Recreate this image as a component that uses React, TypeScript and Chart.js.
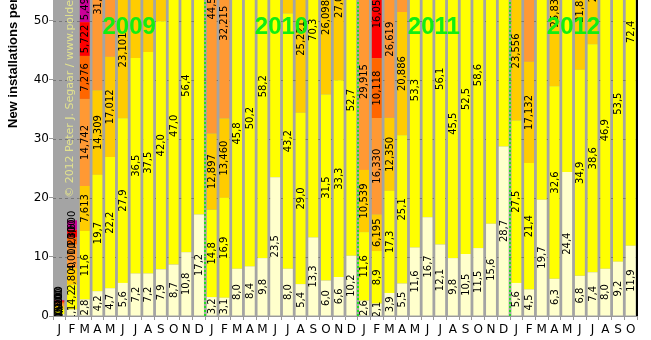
import React, { useEffect, useRef } from 'react';
import { Chart, registerables } from 'chart.js';

Chart.register(...registerables);

// Month initials 2009-01 .. 2012-10
const categories = [
  'J', 'F', 'M', 'A', 'M', 'J', 'J', 'A', 'S', 'O', 'N', 'D',
  'J', 'F', 'M', 'A', 'M', 'J', 'J', 'A', 'S', 'O', 'N', 'D',
  'J', 'F', 'M', 'A', 'M', 'J', 'J', 'A', 'S', 'O', 'N', 'D',
  'J', 'F', 'M', 'A', 'M', 'J', 'J', 'A', 'S', 'O',
];
const yearLabels = ['2009', '2010', '2011', '2012'];
const yearStarts = [0, 12, 24, 36];
const yTicks = [0, 10, 20, 30, 40, 50];

const seriesCream = [
  0.3, 1.1, 2.8, 4.2, 4.7, 5.6, 7.2, 7.2, 7.9, 8.7, 10.8, 17.2,
  3.2, 3.1, 8.0, 8.4, 9.8, 23.5, 8.0, 5.4, 13.3, 6.0, 6.6, 10.2,
  2.6, 2.1, 3.9, 5.5, 11.6, 16.7, 12.1, 9.8, 10.5, 11.5, 15.6, 28.7,
  5.6, 4.5, 19.7, 6.3, 24.4, 6.8, 7.4, 8.0, 9.2, 11.9,
];
const seriesYellow = [
  0.9, 4.2, 11.6, 19.7, 22.2, 27.9, 36.5, 37.5, 42.0, 47.0, 56.4, 90.0,
  14.8, 16.9, 45.8, 50.2, 58.2, 75.0, 43.2, 29.0, 70.3, 31.5, 33.3, 52.7,
  11.6, 8.9, 17.3, 25.1, 53.3, 85.0, 56.1, 45.5, 52.5, 58.6, 85.0, 65.0,
  27.5, 21.4, 80.0, 32.6, 70.0, 34.9, 38.6, 46.9, 53.5, 72.4,
];
const seriesGold = [
  0.5, 2.8, 7.613, 14.309, 17.012, 23.101, 30.0, 28.0, 20.0, 0, 0, 0,
  12.897, 13.46, 0, 0, 0, 0, 18.0, 25.221, 0, 26.098, 27.05, 0,
  10.539, 6.195, 12.35, 20.886, 0, 0, 0, 0, 0, 0, 0, 0,
  23.556, 17.132, 0, 25.835, 0, 21.8, 20.2, 0, 0, 0,
];
const seriesOrange = [
  0.4, 4.0, 14.742, 31.5, 25.0, 0, 0, 0, 0, 0, 0, 0,
  44.5, 32.215, 0, 0, 0, 0, 0, 0, 0, 0, 0, 0,
  29.915, 16.33, 26.619, 15.0, 0, 0, 0, 0, 0, 0, 0, 0,
  0, 30.0, 0, 0, 0, 0, 0, 0, 0, 0,
];
const seriesDarkOrange = [
  0.3, 1.2, 7.276, 0, 0, 0, 0, 0, 0, 0, 0, 0,
  0, 0, 0, 0, 0, 0, 0, 0, 0, 0, 0, 0,
  0, 10.118, 0, 0, 0, 0, 0, 0, 0, 0, 0, 0,
  0, 0, 0, 0, 0, 0, 0, 0, 0, 0,
];
const seriesRed = [
  0.2, 1.3, 5.722, 0, 0, 0, 0, 0, 0, 0, 0, 0,
  0, 0, 0, 0, 0, 0, 0, 0, 0, 0, 0, 0,
  0, 16.05, 0, 0, 0, 0, 0, 0, 0, 0, 0, 0,
  0, 0, 0, 0, 0, 0, 0, 0, 0, 0,
];
const seriesMagenta = [
  0.1, 1.6, 5.49, 0, 0, 0, 0, 0, 0, 0, 0, 0,
  0, 0, 0, 0, 0, 0, 0, 0, 0, 0, 0, 0,
  0, 0, 0, 0, 0, 0, 0, 0, 0, 0, 0, 0,
  0, 0, 0, 0, 0, 0, 0, 0, 0, 0,
];

const seriesList = [
  { name: 'cream', data: seriesCream, color: '#ffffcc', decimals: 1 },
  { name: 'yellow', data: seriesYellow, color: '#ffff00', decimals: 1 },
  { name: 'gold', data: seriesGold, color: '#ffcc00', decimals: 3 },
  { name: 'orange', data: seriesOrange, color: '#ff9933', decimals: 3 },
  { name: 'darkorange', data: seriesDarkOrange, color: '#ff6600', decimals: 3 },
  { name: 'red', data: seriesRed, color: '#ff0000', decimals: 3 },
  { name: 'magenta', data: seriesMagenta, color: '#cc0099', decimals: 3 },
];

const yTitle = 'New installations per month (MWp)';
const copyright = '\u00A9 2012 Peter J. Segaar / www.polderpv.nl';

const decorPlugin = {
  id: 'decor',
  beforeDraw(chart: any) {
    const { ctx, chartArea: a } = chart;
    ctx.save();
    ctx.fillStyle = '#a4a4a4';
    ctx.fillRect(a.left, a.top, a.right - a.left, a.bottom - a.top);
    ctx.restore();
  },
  beforeDatasetsDraw(chart: any) {
    const { ctx, chartArea: a } = chart;
    const ys = chart.scales.y;
    ctx.save();
    ctx.strokeStyle = '#777777';
    ctx.lineWidth = 1;
    ctx.setLineDash([3, 3]);
    yTicks.forEach((v) => {
      if (v === 0) return;
      const py = Math.round(ys.getPixelForValue(v)) + 0.5;
      ctx.beginPath();
      ctx.moveTo(a.left, py);
      ctx.lineTo(a.right, py);
      ctx.stroke();
    });
    ctx.restore();
  },
  afterDatasetsDraw(chart: any) {
    const { ctx, chartArea: a } = chart;
    const xs = chart.scales.x;
    const ys = chart.scales.y;
    ctx.save();
    ctx.beginPath();
    ctx.rect(a.left, a.top, a.right - a.left, a.bottom - a.top);
    ctx.clip();

    // value labels
    ctx.font = '10px "DejaVu Sans"';
    ctx.fillStyle = '#000000';
    ctx.textAlign = 'center';
    ctx.textBaseline = 'middle';
    chart.data.datasets.forEach((ds: any, di: number) => {
      const meta = chart.getDatasetMeta(di);
      meta.data.forEach((bar: any, i: number) => {
        const v = ds.data[i];
        if (!v) return;
        const p = bar.getProps(['x', 'y', 'base'], true);
        const cy = (p.y + p.base) / 2;
        ctx.save();
        ctx.translate(p.x + 0.5, cy);
        ctx.rotate(-Math.PI / 2);
        ctx.fillText(v.toFixed(seriesList[di].decimals).replace('.', ','), 0, 0);
        ctx.restore();
      });
    });

    // year separators
    ctx.strokeStyle = '#22dd22';
    ctx.lineWidth = 2;
    ctx.setLineDash([2, 2]);
    yearStarts.forEach((s) => {
      if (s === 0) return;
      const px = Math.round((xs.getPixelForValue(s - 1) + xs.getPixelForValue(s)) / 2);
      ctx.beginPath();
      ctx.moveTo(px, a.bottom);
      ctx.lineTo(px, a.top);
      ctx.stroke();
    });
    ctx.setLineDash([]);

    // year labels
    ctx.font = 'bold 24px "Liberation Sans"';
    ctx.fillStyle = '#11ee11';
    ctx.textAlign = 'center';
    ctx.textBaseline = 'middle';
    yearLabels.forEach((label, k) => {
      const s = yearStarts[k];
      const e = Math.min(s + 11, categories.length - 1);
      const cx = (xs.getPixelForValue(s) + xs.getPixelForValue(e)) / 2;
      ctx.fillText(label, cx, ys.getPixelForValue(49.1) + 1);
    });

    // copyright
    ctx.font = '11px "DejaVu Sans"';
    ctx.fillStyle = '#e2e28e';
    ctx.textAlign = 'left';
    ctx.textBaseline = 'alphabetic';
    ctx.save();
    ctx.translate(a.left + 20, ys.getPixelForValue(20));
    ctx.rotate(-Math.PI / 2);
    ctx.fillText(copyright, 0, 0);
    ctx.restore();

    ctx.restore();
  },
  afterDraw(chart: any) {
    const { ctx, chartArea: a } = chart;
    ctx.save();
    ctx.strokeStyle = '#000000';
    ctx.lineWidth = 2;
    ctx.beginPath();
    ctx.moveTo(a.right, a.top);
    ctx.lineTo(a.right, a.bottom);
    ctx.stroke();

    ctx.font = 'bold 13px "Liberation Sans"';
    ctx.fillStyle = '#000000';
    ctx.textAlign = 'left';
    ctx.textBaseline = 'alphabetic';
    ctx.translate(17, 128);
    ctx.rotate(-Math.PI / 2);
    ctx.fillText(yTitle, 0, 0);
    ctx.restore();
  },
};

export default function App() {
  const ref = useRef<HTMLCanvasElement | null>(null);
  useEffect(() => {
    document.body.style.margin = '0';
    if (!ref.current) return;
    const chart = new Chart(ref.current, {
      type: 'bar',
      data: {
        labels: categories,
        datasets: seriesList.map((s) => ({
          label: s.name,
          data: s.data,
          backgroundColor: s.color,
          borderWidth: 0,
          stack: 'a',
          barPercentage: 0.78,
          categoryPercentage: 1,
        })),
      },
      options: {
        responsive: false,
        animation: false,
        devicePixelRatio: 1,
        layout: { padding: { top: 0, right: 14, left: 0, bottom: 0 } },
        plugins: { legend: { display: false }, tooltip: { enabled: false } },
        scales: {
          x: {
            stacked: true,
            grid: {
              offset: true,
              drawOnChartArea: false,
              drawTicks: true,
              tickLength: 4,
              tickColor: '#999999',
            },
            border: { display: true, color: '#999999' },
            ticks: {
              color: '#000000',
              font: { family: 'DejaVu Sans', size: 12 },
              padding: 3,
              maxRotation: 0,
              autoSkip: false,
            },
            afterFit: (scale: any) => {
              scale.height = 24;
              scale.paddingLeft = 0;
              scale.paddingRight = 0;
            },
          },
          y: {
            stacked: true,
            min: 0,
            max: 53.5,
            grid: {
              drawOnChartArea: false,
              drawTicks: true,
              tickLength: 4,
              tickColor: '#999999',
            },
            border: { display: false },
            afterBuildTicks: (scale: any) => {
              scale.ticks = yTicks.map((v) => ({ value: v }));
            },
            ticks: {
              color: '#000000',
              font: { family: 'DejaVu Sans', size: 12 },
              padding: 0,
              callback: (v: any) => String(v),
            },
            afterFit: (scale: any) => {
              scale.width = 53;
              scale.paddingTop = 0;
              scale.paddingBottom = 0;
            },
          },
        },
      },
      plugins: [decorPlugin],
    });
    return () => chart.destroy();
  }, []);
  return (
    <div style={{ width: 651, height: 340 }}>
      <canvas ref={ref} width={651} height={340} style={{ display: 'block' }} />
    </div>
  );
}
